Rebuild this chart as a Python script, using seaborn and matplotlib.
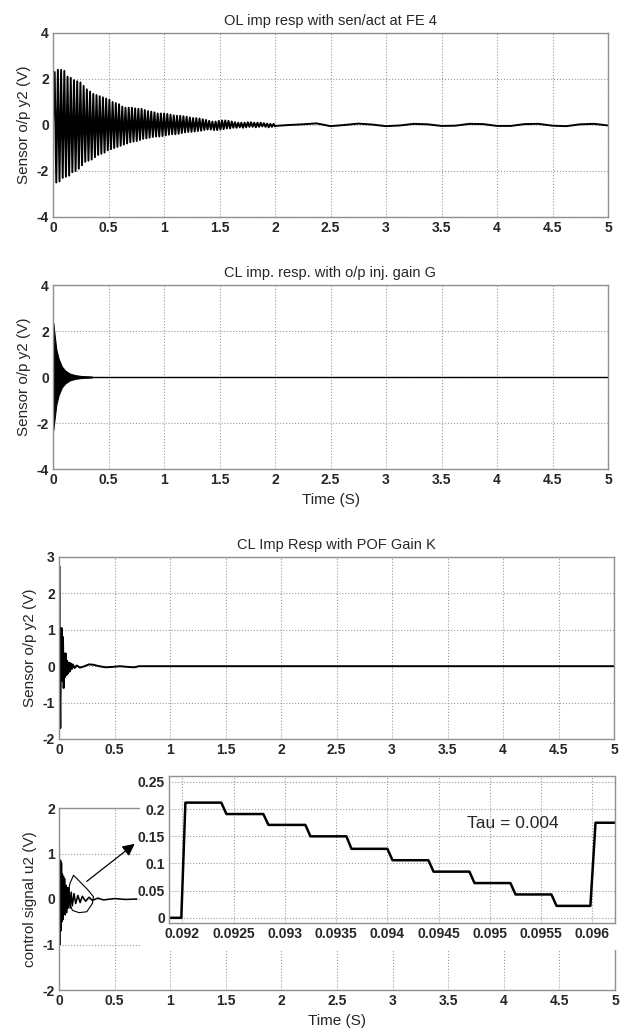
import numpy as np
import pandas as pd
import matplotlib
matplotlib.use("Agg")
import matplotlib.pyplot as plt
from matplotlib.patches import FancyArrowPatch, Rectangle
import seaborn as sns

# --- panel 1: open loop response, peak values of each stripe
stripe_period = 0.029
ol_hi = [2.3, 2.4, 2.4, 2.35, 2.1, 2.05, 1.95, 1.9, 1.85, 1.7, 1.55, 1.45, 1.35, 1.3,
         1.25, 1.2, 1.15, 1.1, 1.0, 0.95, 0.9, 0.8, 0.75, 0.75, 0.75, 0.72, 0.7, 0.7,
         0.65, 0.6, 0.58, 0.55, 0.5, 0.5, 0.5, 0.48, 0.45, 0.42, 0.4, 0.4, 0.38, 0.36,
         0.33, 0.3, 0.3, 0.28, 0.25, 0.22, 0.18, 0.15, 0.15, 0.18, 0.2, 0.2, 0.18, 0.15,
         0.12, 0.1, 0.1, 0.1, 0.12, 0.12, 0.1, 0.1, 0.1, 0.08, 0.06, 0.05, 0.05]
ol_lo = [-2.5, -2.45, -2.3, -2.25, -2.2, -2.05, -2.0, -1.9, -1.75, -1.6, -1.55, -1.5,
         -1.4, -1.3, -1.25, -1.2, -1.1, -1.05, -1.0, -0.95, -0.9, -0.85, -0.8, -0.75,
         -0.72, -0.7, -0.65, -0.6, -0.58, -0.55, -0.52, -0.5, -0.5, -0.48, -0.45, -0.42,
         -0.4, -0.4, -0.38, -0.35, -0.32, -0.3, -0.3, -0.28, -0.26, -0.25, -0.22, -0.2,
         -0.2, -0.22, -0.22, -0.2, -0.18, -0.15, -0.15, -0.12, -0.12, -0.1, -0.12, -0.1,
         -0.08, -0.08, -0.1, -0.08, -0.06, -0.08, -0.1, -0.08, -0.06]
ol_tail_t = [2.0, 2.125, 2.25, 2.375, 2.5, 2.625, 2.75, 2.875, 3.0, 3.125, 3.25, 3.375,
             3.5, 3.625, 3.75, 3.875, 4.0, 4.125, 4.25, 4.375, 4.5, 4.625, 4.75, 4.875, 5.0]
ol_tail_y = [-0.04, 0.0, 0.03, 0.07, -0.05, 0.0, 0.06, 0.02, -0.05, -0.02, 0.05, 0.03,
             -0.04, -0.03, 0.05, 0.04, -0.04, -0.04, 0.04, 0.05, -0.03, -0.05, 0.03, 0.05, -0.02]

# --- panel 2: closed loop with output injection, envelope of the dense burst
cl_t = [0.0, 0.003, 0.015, 0.03, 0.05, 0.08, 0.11, 0.15, 0.2, 0.26, 0.35]
cl_hi = [0.0, 2.35, 1.8, 1.2, 0.8, 0.45, 0.28, 0.15, 0.08, 0.04, 0.02]
cl_lo = [0.0, -2.3, -1.8, -1.2, -0.8, -0.45, -0.28, -0.15, -0.08, -0.04, -0.02]

# --- panel 3: closed loop with POF gain K
pof_t = [0, 0.003, 0.008, 0.012, 0.018, 0.024, 0.03, 0.036, 0.042, 0.048, 0.054, 0.06,
         0.066, 0.072, 0.08, 0.088, 0.096, 0.105, 0.115, 0.125, 0.14, 0.16, 0.19, 0.23,
         0.27, 0.31, 0.36, 0.42, 0.48, 0.55, 0.62, 0.68, 0.72, 0.78, 5.0]
pof_y = [0, 2.75, -0.8, -1.7, 0.6, 1.05, -0.4, 0.8, -0.6, 0.35, -0.3, 0.35, -0.25, 0.15,
         -0.2, 0.1, -0.15, 0.08, -0.08, 0.05, -0.05, 0.02, -0.04, 0.0, 0.05, 0.04, 0.0,
         -0.03, -0.02, 0.0, -0.02, -0.03, 0.0, 0.0, 0.0]

# --- panel 4: control signal u2
u2_t = [0, 0.002, 0.006, 0.01, 0.014, 0.018, 0.022, 0.026, 0.03, 0.035, 0.04, 0.045,
        0.05, 0.056, 0.062, 0.068, 0.075, 0.082, 0.09, 0.1, 0.11, 0.12, 0.135, 0.15,
        0.17, 0.19, 0.21, 0.24, 0.27, 0.3, 0.35, 0.4, 0.5, 0.6, 0.7]
u2_y = [0, 1.25, -0.6, -1.0, 0.85, -0.7, 0.8, -0.5, 0.55, -0.45, 0.5, -0.3, 0.45, -0.35,
        0.3, -0.3, 0.25, -0.2, 0.25, -0.2, 0.15, -0.15, 0.12, -0.1, 0.08, -0.08, 0.06,
        -0.05, 0.04, -0.03, 0.02, -0.02, 0.01, -0.01, 0.0]

# zoomed staircase of u2 (inset)
zoom_t = [0.09187, 0.09199, 0.09203, 0.09238, 0.09243, 0.09279, 0.09284, 0.09320, 0.09325,
          0.09360, 0.09365, 0.09400, 0.09405, 0.09440, 0.09445, 0.09480, 0.09485, 0.09520,
          0.09525, 0.09560, 0.09565, 0.09598, 0.09603, 0.09622]
zoom_y = [0.0, 0.0, 0.212, 0.212, 0.191, 0.191, 0.171, 0.171, 0.150, 0.150, 0.127, 0.127,
          0.106, 0.106, 0.085, 0.085, 0.064, 0.064, 0.043, 0.043, 0.022, 0.022, 0.175, 0.175]

# hand drawn loop and arrow on panel 4
loop_t = [0.13, 0.16, 0.2, 0.26, 0.31, 0.3, 0.25, 0.18, 0.12, 0.09, 0.08, 0.1, 0.13]
loop_y = [0.52, 0.45, 0.35, 0.2, 0.05, -0.1, -0.28, -0.3, -0.25, -0.05, 0.15, 0.35, 0.52]

x_ticks = [0, 0.5, 1, 1.5, 2, 2.5, 3, 3.5, 4, 4.5, 5]
x_ticklabels = ["0", "0.5", "1", "1.5", "2", "2.5", "3", "3.5", "4", "4.5", "5"]
zoom_xticks = [0.092, 0.0925, 0.093, 0.0935, 0.094, 0.0945, 0.095, 0.0955, 0.096]
zoom_yticks = [0, 0.05, 0.1, 0.15, 0.2, 0.25]

sns.set_style("white")
plt.rcParams['font.family'] = ['Liberation Sans', 'DejaVu Sans']
plt.rcParams['axes.unicode_minus'] = False

fig = plt.figure(figsize=(6.21, 10.34), dpi=100)
W, H = 621, 1034


def box(l, r, t, b):
    return [l / W, 1 - b / H, (r - l) / W, (b - t) / H]


def style(ax, yticks, ylim, xlim=(0, 5), xt=x_ticks, xtl=x_ticklabels):
    ax.set_xlim(*xlim)
    ax.set_ylim(*ylim)
    ax.set_xticks(xt)
    ax.set_xticklabels(xtl)
    ax.set_yticks(yticks)
    ax.grid(True, linestyle=":", color="#9a9a9a", linewidth=0.8)
    for s in ax.spines.values():
        s.set_color("#909090")
        s.set_linewidth(1.0)
    ax.tick_params(direction="in", length=3, color="#909090", labelsize=10, pad=3)
    for lab in ax.get_xticklabels() + ax.get_yticklabels():
        lab.set_fontweight("bold")
    ax.set_xlabel("")
    ax.set_ylabel("")


# panel 1
ax1 = fig.add_axes(box(53, 608, 33, 217))
n = len(ol_hi)
t_hi = 0.015 + stripe_period * np.arange(n)
t1 = np.empty(2 * n)
y1 = np.empty(2 * n)
t1[0::2], t1[1::2] = t_hi, t_hi + stripe_period / 2
y1[0::2], y1[1::2] = ol_hi, ol_lo
df1 = pd.DataFrame({"t": np.r_[0, t1, ol_tail_t], "y": np.r_[0, y1, ol_tail_y]})
sns.lineplot(data=df1, x="t", y="y", ax=ax1, color="black", linewidth=1.4,
             sort=False, estimator=None)
style(ax1, [-4, -2, 0, 2, 4], (-4, 4))
ax1.set_title("OL imp resp with sen/act at FE 4", fontsize=10.5, pad=6)
ax1.set_ylabel("Sensor o/p y2 (V)", fontsize=11)

# panel 2
ax2 = fig.add_axes(box(53, 608, 285, 469))
ax2.fill_between(cl_t, cl_lo, cl_hi, color="black", linewidth=0.8)
sns.lineplot(x=[0, 5], y=[0, 0], ax=ax2, color="black", linewidth=1.0)
style(ax2, [-4, -2, 0, 2, 4], (-4, 4))
ax2.set_title("CL imp. resp. with o/p inj. gain G", fontsize=10.5, pad=6)
ax2.set_ylabel("Sensor o/p y2 (V)", fontsize=11)
ax2.set_xlabel("Time (S)", fontsize=11)

# panel 3
ax3 = fig.add_axes(box(59, 614, 557, 739))
sns.lineplot(x=pof_t, y=pof_y, ax=ax3, color="black", linewidth=1.4,
             sort=False, estimator=None)
style(ax3, [-2, -1, 0, 1, 2, 3], (-2, 3))
ax3.set_title("CL Imp Resp with POF Gain K", fontsize=10.5, pad=6)
ax3.set_ylabel("Sensor o/p y2 (V)", fontsize=11)

# panel 4
ax4 = fig.add_axes(box(59, 615, 808, 990))
sns.lineplot(x=u2_t, y=u2_y, ax=ax4, color="black", linewidth=1.1,
             sort=False, estimator=None)
style(ax4, [-2, -1, 0, 1, 2], (-2, 2))
ax4.set_ylabel("control signal u2 (V)", fontsize=11)
ax4.set_xlabel("Time (S)", fontsize=11)
ax4.plot(loop_t, loop_y, color="black", linewidth=0.8)

# white paste-over behind the zoomed plot
fig.add_artist(Rectangle((140 / W, 1 - 950 / H), 481 / W, 182 / H,
                         transform=fig.transFigure, facecolor="white",
                         edgecolor="none", zorder=1))
arrow = FancyArrowPatch((0.23, 0.35), (0.70, 1.25), transform=ax4.transData,
                        arrowstyle="-|>", mutation_scale=18, color="black",
                        linewidth=0.9, zorder=3)
fig.add_artist(arrow)

# inset
axi = fig.add_axes(box(169, 615, 776, 923), zorder=2)
sns.lineplot(x=zoom_t, y=zoom_y, ax=axi, color="black", linewidth=1.8,
             sort=False, estimator=None)
style(axi, zoom_yticks, (-0.0095, 0.261), xlim=(0.09187, 0.09622),
      xt=zoom_xticks, xtl=[str(v) for v in zoom_xticks])
axi.set_yticklabels(["0", "0.05", "0.1", "0.15", "0.2", "0.25"])
for lab in axi.get_yticklabels():
    lab.set_fontweight("bold")
axi.text(0.09522, 0.1745, "Tau = 0.004", fontsize=12.5, ha="center", va="center")

fig.savefig("out.png", dpi=100)
